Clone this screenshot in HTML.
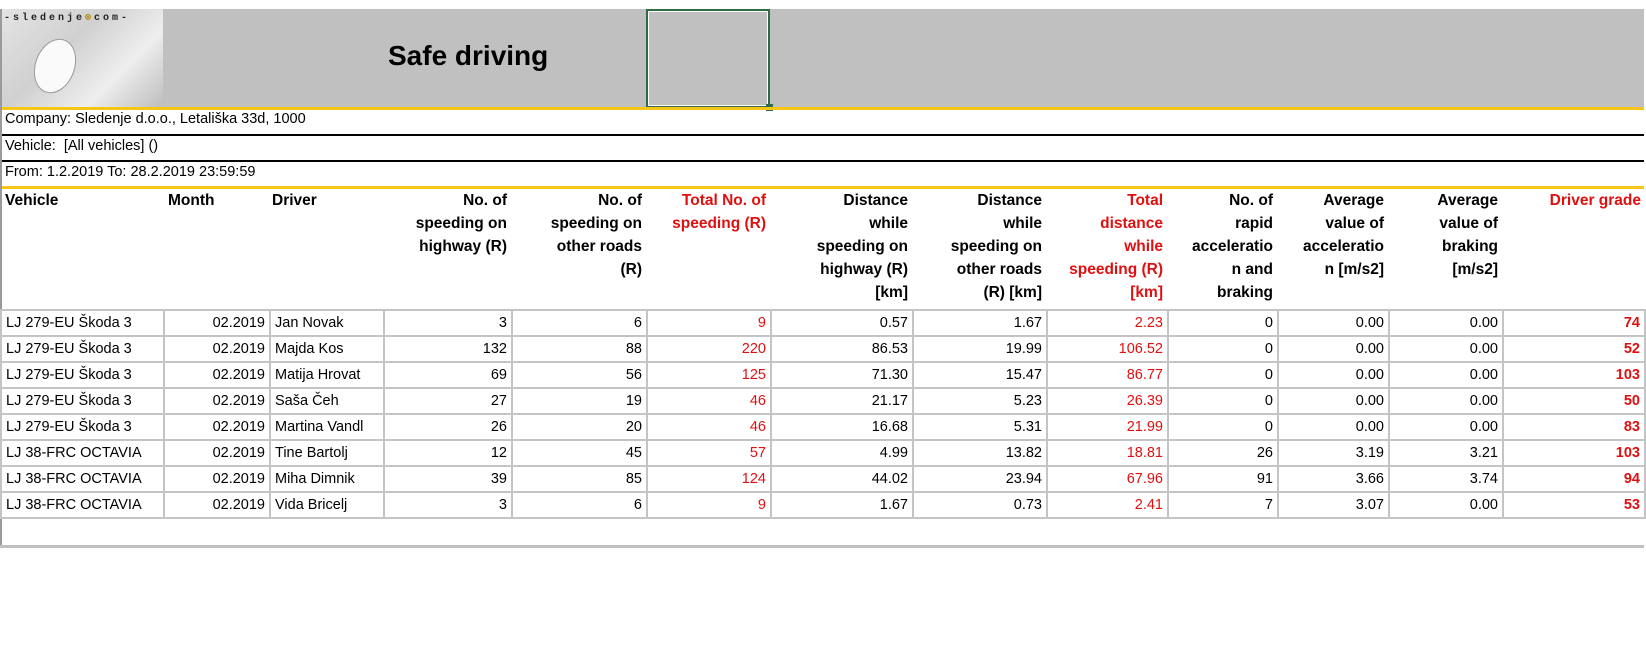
<!DOCTYPE html>
<html><head><meta charset="utf-8">
<style>
*{margin:0;padding:0;box-sizing:border-box}
body{width:1646px;height:648px;background:#fff;position:relative;overflow:hidden;font-family:"Liberation Sans","DejaVu Sans",sans-serif;color:#000}
.a{position:absolute}
.band{left:0;top:9px;width:1644px;height:98px;background:#c0c0c0}
.logo{left:1px;top:9px;width:162px;height:98px;background:linear-gradient(135deg,#e4e4e4 0%,#d0d0d0 40%,#eeeeee 70%,#bdbdbd 100%)}
.yl{background:#f5c518}
.bl{background:#000}
.gl{background:#c0c0c0}
.info{font-size:14.5px;left:5px}
.hd{font-weight:bold;font-size:15.5px;line-height:23px;top:189px}
.r{text-align:right}
.red{color:#e01010}
table{position:absolute;left:0;top:309px;border-collapse:collapse;font-size:14.5px}
td{height:26px;border:2px solid #c4c4c4;padding:0 4px;white-space:nowrap;line-height:22px}
td.n{text-align:right}
td.g{text-align:right;font-weight:bold;color:#e01010}
td.rd{text-align:right;color:#e01010}
</style></head><body>
<div class="a band"></div>
<div class="a logo"></div>
<div class="a" style="left:4px;top:12px;font-size:10px;letter-spacing:3px;color:#222;font-family:'Liberation Mono',monospace;font-weight:bold">-sledenje<span style="color:#b08a00">⊗</span>com-</div>
<div class="a" style="left:35px;top:38px;width:40px;height:56px;border-radius:50%;background:#fafafa;transform:rotate(20deg);border:1px solid #999"></div>
<div class="a" style="left:388px;top:40px;font-size:28px;font-weight:bold">Safe driving</div>
<div class="a" style="left:646px;top:9px;width:124px;height:99px;border:2px solid #2e6b46;outline:1px solid #fff;outline-offset:-3px"></div>
<div class="a" style="left:766px;top:104px;width:7px;height:7px;background:#2e6b46"></div>
<div class="a yl" style="left:0;top:107px;width:1644px;height:3px"></div>
<div class="a info" style="top:111px">Company: Sledenje d.o.o., Letališka 33d, 1000</div>
<div class="a bl" style="left:0;top:134px;width:1644px;height:2px"></div>
<div class="a info" style="top:138px">Vehicle:&nbsp; [All vehicles] ()</div>
<div class="a bl" style="left:0;top:160px;width:1644px;height:2px"></div>
<div class="a info" style="top:164px">From: 1.2.2019 To: 28.2.2019 23:59:59</div>
<div class="a yl" style="left:0;top:186px;width:1644px;height:3px"></div>
<div class="a" style="left:0;top:9px;width:2px;height:539px;background:#9a9a9a"></div>

<div class="a hd" style="left:5px">Vehicle</div>
<div class="a hd" style="left:168px">Month</div>
<div class="a hd" style="left:272px">Driver</div>
<div class="a hd r" style="left:383px;width:124px">No. of<br>speeding on<br>highway (R)</div>
<div class="a hd r" style="left:511px;width:131px">No. of<br>speeding on<br>other roads<br>(R)</div>
<div class="a hd r red" style="left:640px;width:126px">Total No. of<br>speeding (R)</div>
<div class="a hd r" style="left:770px;width:138px">Distance<br>while<br>speeding on<br>highway (R)<br>[km]</div>
<div class="a hd r" style="left:912px;width:130px">Distance<br>while<br>speeding on<br>other roads<br>(R) [km]</div>
<div class="a hd r red" style="left:1040px;width:123px">Total<br>distance<br>while<br>speeding (R)<br>[km]</div>
<div class="a hd r" style="left:1167px;width:106px">No. of<br>rapid<br>acceleratio<br>n and<br>braking</div>
<div class="a hd r" style="left:1277px;width:107px">Average<br>value of<br>acceleratio<br>n [m/s2]</div>
<div class="a hd r" style="left:1388px;width:110px">Average<br>value of<br>braking<br>[m/s2]</div>
<div class="a hd r red" style="left:1502px;width:139px">Driver grade</div>

<table>
<colgroup><col style="width:163px"><col style="width:106px"><col style="width:114px"><col style="width:128px"><col style="width:135px"><col style="width:124px"><col style="width:142px"><col style="width:134px"><col style="width:121px"><col style="width:110px"><col style="width:111px"><col style="width:114px"><col style="width:142px"></colgroup>
<tr><td>LJ 279-EU Škoda 3</td><td class="n">02.2019</td><td>Jan Novak</td><td class="n">3</td><td class="n">6</td><td class="rd">9</td><td class="n">0.57</td><td class="n">1.67</td><td class="rd">2.23</td><td class="n">0</td><td class="n">0.00</td><td class="n">0.00</td><td class="g">74</td></tr>
<tr><td>LJ 279-EU Škoda 3</td><td class="n">02.2019</td><td>Majda Kos</td><td class="n">132</td><td class="n">88</td><td class="rd">220</td><td class="n">86.53</td><td class="n">19.99</td><td class="rd">106.52</td><td class="n">0</td><td class="n">0.00</td><td class="n">0.00</td><td class="g">52</td></tr>
<tr><td>LJ 279-EU Škoda 3</td><td class="n">02.2019</td><td>Matija Hrovat</td><td class="n">69</td><td class="n">56</td><td class="rd">125</td><td class="n">71.30</td><td class="n">15.47</td><td class="rd">86.77</td><td class="n">0</td><td class="n">0.00</td><td class="n">0.00</td><td class="g">103</td></tr>
<tr><td>LJ 279-EU Škoda 3</td><td class="n">02.2019</td><td>Saša Čeh</td><td class="n">27</td><td class="n">19</td><td class="rd">46</td><td class="n">21.17</td><td class="n">5.23</td><td class="rd">26.39</td><td class="n">0</td><td class="n">0.00</td><td class="n">0.00</td><td class="g">50</td></tr>
<tr><td>LJ 279-EU Škoda 3</td><td class="n">02.2019</td><td>Martina Vandl</td><td class="n">26</td><td class="n">20</td><td class="rd">46</td><td class="n">16.68</td><td class="n">5.31</td><td class="rd">21.99</td><td class="n">0</td><td class="n">0.00</td><td class="n">0.00</td><td class="g">83</td></tr>
<tr><td>LJ 38-FRC OCTAVIA</td><td class="n">02.2019</td><td>Tine Bartolj</td><td class="n">12</td><td class="n">45</td><td class="rd">57</td><td class="n">4.99</td><td class="n">13.82</td><td class="rd">18.81</td><td class="n">26</td><td class="n">3.19</td><td class="n">3.21</td><td class="g">103</td></tr>
<tr><td>LJ 38-FRC OCTAVIA</td><td class="n">02.2019</td><td>Miha Dimnik</td><td class="n">39</td><td class="n">85</td><td class="rd">124</td><td class="n">44.02</td><td class="n">23.94</td><td class="rd">67.96</td><td class="n">91</td><td class="n">3.66</td><td class="n">3.74</td><td class="g">94</td></tr>
<tr><td>LJ 38-FRC OCTAVIA</td><td class="n">02.2019</td><td>Vida Bricelj</td><td class="n">3</td><td class="n">6</td><td class="rd">9</td><td class="n">1.67</td><td class="n">0.73</td><td class="rd">2.41</td><td class="n">7</td><td class="n">3.07</td><td class="n">0.00</td><td class="g">53</td></tr>
</table>
<div class="a gl" style="left:0;top:545px;width:1644px;height:3px"></div>
</body></html>
